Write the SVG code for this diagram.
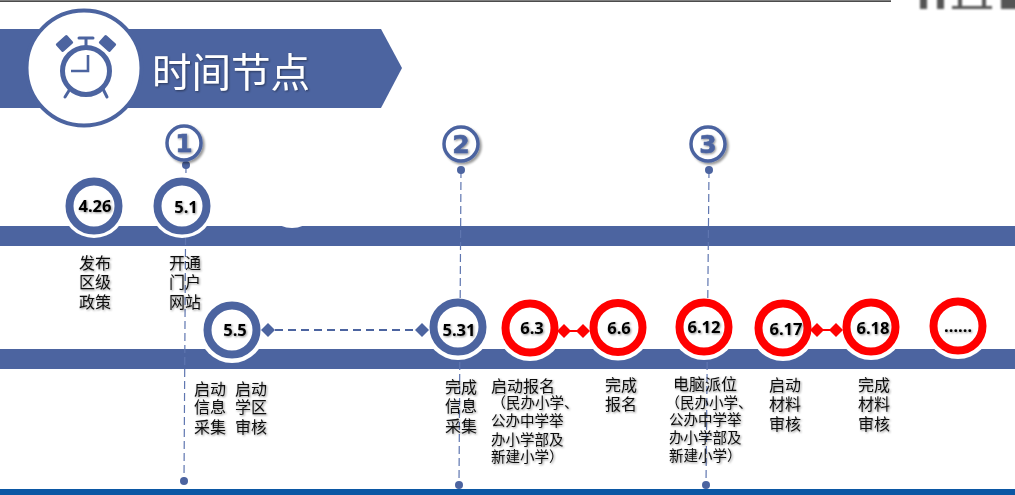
<svg xmlns="http://www.w3.org/2000/svg" width="1015" height="495" viewBox="0 0 1015 495">
<style>
.bar{fill:#4c64a0}
.halo{fill:#fff}
.low{clip-path:url(#lowBand)}
.ring{fill:#fff;stroke:#4c64a0;stroke-width:8}
.ring.red{stroke:#ff0000}
.date{font-family:"Open Sans","Noto Sans",sans-serif;font-weight:700;font-size:16.5px;text-anchor:middle;fill:#000;filter:url(#ts)}
.lab{font-family:"Noto Sans CJK SC",sans-serif;font-size:16px;fill:#111;filter:url(#ts)}
.small{font-size:14.5px}
.num{font-family:"DejaVu Sans",sans-serif;font-weight:700;font-size:25px;text-anchor:middle;fill:#4c64a0;stroke:#4c64a0;stroke-width:0.6;filter:url(#ts)}
.badge{fill:#fff;stroke:#4c64a0;stroke-width:3.5}
.vdash{fill:none;stroke:#5f76b0;stroke-width:1.2;stroke-dasharray:8 4}
.dot{fill:#4c64a0}
.hdash{fill:none;stroke:#4c64a0;stroke-width:2;stroke-dasharray:8 5}
.rdash{fill:none;stroke:#ff0000;stroke-width:2}
.dia{fill:#4c64a0}
.dia.red{fill:#ff0000}
.ck{fill:none;stroke:#4c64a0;stroke-width:5}
.ckt{fill:none;stroke:#4c64a0;stroke-width:3;stroke-linecap:round}
</style>
<defs>
<clipPath id="lowBand"><rect x="0" y="345" width="1015" height="30"/></clipPath>
<filter id="ts" x="-20%" y="-20%" width="150%" height="150%"><feDropShadow dx="1" dy="1" stdDeviation="0.8" flood-color="#000" flood-opacity="0.45"/></filter>
<filter id="bs" x="-20%" y="-20%" width="150%" height="150%"><feDropShadow dx="2" dy="2" stdDeviation="1.2" flood-color="#000" flood-opacity="0.4"/></filter>
<filter id="blur" x="-20%" y="-50%" width="140%" height="200%"><feGaussianBlur stdDeviation="1"/></filter>
</defs>
<rect width="1015" height="495" fill="#fff"/>
<rect x="0" y="0.5" width="891" height="1.2" fill="#000"/>
<g id="logo-fragment" fill="#555" filter="url(#blur)">
<rect x="920" y="-3" width="7" height="12"/>
<rect x="937" y="-3" width="7" height="12"/>
<rect x="952" y="6" width="40" height="3"/>
<rect x="958" y="-3" width="4" height="10"/>
<rect x="982" y="-3" width="4" height="10"/>
<rect x="1001" y="-3" width="16" height="12"/>
</g>
<g id="banner">
<polygon class="bar" points="0,29 381,29 402,68 381,108 0,108"/>
<circle cx="84" cy="68" r="57.5" fill="#fff" stroke="#4c64a0" stroke-width="4"/>
<g id="clock">
<circle class="ck" cx="86" cy="71" r="23.5"/>
<path d="M88 55V71H71" fill="none" stroke="#4c64a0" stroke-width="2.6"/>
<path d="M86 38V46" stroke="#4c64a0" stroke-width="3"/>
<path d="M79 38H93" class="ckt"/>
<rect x="57" y="38" width="15" height="11" rx="1.5" transform="rotate(-42 64.5 43.5)" fill="#4c64a0"/>
<rect x="100" y="38" width="15" height="11" rx="1.5" transform="rotate(42 107.5 43.5)" fill="#4c64a0"/>
<path d="M70 89L65 97M103 89L107 97" class="ckt"/>
</g>
<text x="152" y="87" font-family="'Noto Sans CJK SC',sans-serif" font-size="39.5" fill="#fff" filter="url(#ts)">时间节点</text>
</g>
<rect id="bar-1" class="bar" x="0" y="226" width="1015" height="20"/>
<rect id="bar-2" class="bar" x="0" y="349" width="1015" height="20"/>
<rect id="bar-3" x="0" y="489" width="1015" height="6" fill="#0b57a4"/>
<circle class="halo" cx="292" cy="199" r="29"/>
<g id="connectors">
<path class="vdash" d="M186 165L184 481"/>
<path class="vdash" d="M461 170L459 485"/>
<path class="vdash" d="M709 170L706 485"/>
<circle class="dot" cx="186" cy="165" r="4"/>
<circle class="dot" cx="461" cy="170" r="4"/>
<circle class="dot" cx="709" cy="170" r="4"/>
<circle class="dot" cx="184" cy="481" r="4"/>
<circle class="dot" cx="459" cy="485" r="4"/>
<circle class="dot" cx="706" cy="485" r="4"/>
<path class="hdash" d="M275 330H415"/>
<polygon class="dia" points="268,323 275,330 268,337 261,330"/>
<polygon class="dia" points="422,323 429,330 422,337 415,330"/>
<path class="rdash" d="M564 331H583"/>
<polygon class="dia red" points="564,324 571,331 564,338 557,331"/>
<polygon class="dia red" points="583,324 590,331 583,338 576,331"/>
<path class="rdash" d="M817 330H836"/>
<polygon class="dia red" points="817,323 824,330 817,337 810,330"/>
<polygon class="dia red" points="836,323 843,330 836,337 829,330"/>
</g>
<g id="badge-1"><circle class="badge" cx="184" cy="143" r="17" filter="url(#bs)"/><text class="num" x="184" y="152">1</text></g>
<g id="badge-2"><circle class="badge" cx="461" cy="144" r="17" filter="url(#bs)"/><text class="num" x="461" y="153">2</text></g>
<g id="badge-3"><circle class="badge" cx="708" cy="144" r="17" filter="url(#bs)"/><text class="num" x="708" y="153">3</text></g>
<g id="node-426"><circle class="halo" cx="94" cy="206" r="32"/><circle class="ring" cx="94" cy="206" r="24.5"/><text class="date" x="95" y="212">4.26</text>
<text class="lab"><tspan x="79" y="269">发布</tspan><tspan x="79" y="288">区级</tspan><tspan x="79" y="308">政策</tspan></text></g>
<g id="node-51"><circle class="halo" cx="182" cy="206" r="32"/><circle class="ring" cx="182" cy="206" r="24.5"/><text class="date" x="186" y="213">5.1</text>
<text class="lab"><tspan x="169" y="269">开通</tspan><tspan x="169" y="288">门户</tspan><tspan x="169" y="308">网站</tspan></text></g>
<g id="node-55"><circle class="halo low" cx="232" cy="330" r="33"/><circle class="ring" cx="232" cy="330" r="24.5"/><text class="date" x="235" y="336">5.5</text>
<text class="lab"><tspan x="194" y="395">启动</tspan><tspan x="194" y="413">信息</tspan><tspan x="194" y="433">采集</tspan></text>
<text class="lab"><tspan x="235" y="395">启动</tspan><tspan x="235" y="413">学区</tspan><tspan x="235" y="433">审核</tspan></text></g>
<g id="node-531"><circle class="halo low" cx="458" cy="327" r="33"/><circle class="ring" cx="458" cy="327" r="24.5"/><text class="date" x="459" y="336">5.31</text>
<text class="lab"><tspan x="445" y="393">完成</tspan><tspan x="445" y="412">信息</tspan><tspan x="445" y="432">采集</tspan></text></g>
<g id="node-63"><circle class="halo low" cx="530" cy="328" r="33"/><circle class="ring red" cx="530" cy="328" r="24.5"/><text class="date" x="532" y="334">6.3</text>
<text class="lab"><tspan x="491" y="392">启动报名</tspan><tspan class="small" x="491.5" y="408">（民办小学、</tspan><tspan class="small" x="491" y="426">公办中学举</tspan><tspan class="small" x="491" y="445">办小学部及</tspan><tspan class="small" x="491" y="462">新建小学）</tspan></text></g>
<g id="node-66"><circle class="halo low" cx="618" cy="327.5" r="33"/><circle class="ring red" cx="618" cy="327.5" r="24.5"/><text class="date" x="619" y="334">6.6</text>
<text class="lab"><tspan x="605" y="391">完成</tspan><tspan x="605" y="410">报名</tspan></text></g>
<g id="node-612"><circle class="halo low" cx="704" cy="327" r="33"/><circle class="ring red" cx="704" cy="327" r="24.5"/><text class="date" x="704" y="333">6.12</text>
<text class="lab"><tspan x="673" y="390">电脑派位</tspan><tspan class="small" x="665.5" y="408">（民办小学、</tspan><tspan class="small" x="669" y="425">公办中学举</tspan><tspan class="small" x="669" y="443">办小学部及</tspan><tspan class="small" x="669" y="461">新建小学）</tspan></text></g>
<g id="node-617"><circle class="halo low" cx="783" cy="328" r="33"/><circle class="ring red" cx="783" cy="328" r="24.5"/><text class="date" x="786" y="335">6.17</text>
<text class="lab"><tspan x="769" y="391">启动</tspan><tspan x="769" y="410">材料</tspan><tspan x="769" y="430">审核</tspan></text></g>
<g id="node-618"><circle class="halo low" cx="871" cy="327" r="33"/><circle class="ring red" cx="871" cy="327" r="24.5"/><text class="date" x="873" y="334">6.18</text>
<text class="lab"><tspan x="858" y="391">完成</tspan><tspan x="858" y="410">材料</tspan><tspan x="858" y="430">审核</tspan></text></g>
<g id="node-more"><circle class="halo low" cx="958" cy="326" r="33"/><circle class="ring red" cx="958" cy="326" r="24.5"/><text class="date" x="958" y="332">……</text></g>
</svg>
